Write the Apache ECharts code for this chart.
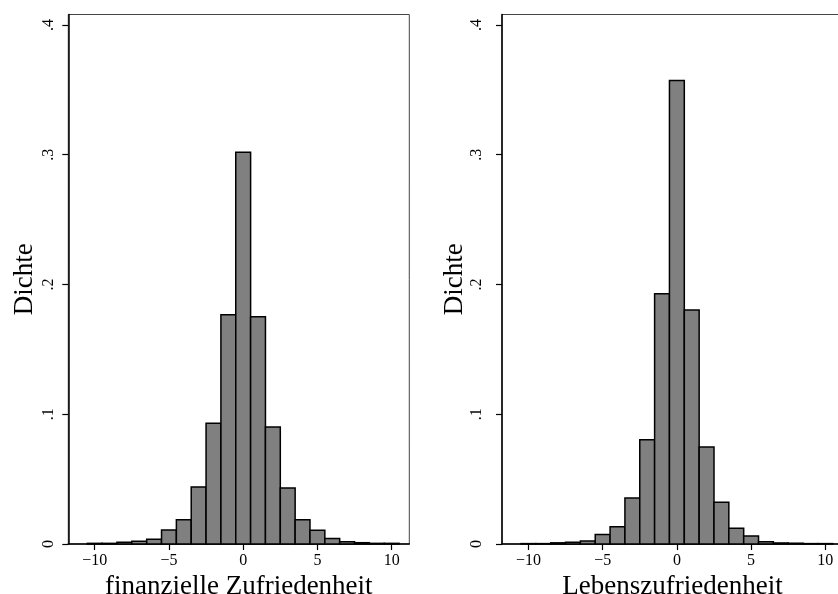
<!DOCTYPE html>
<html>
<head>
<meta charset="utf-8">
<script src="https://cdn.jsdelivr.net/npm/echarts@6/dist/echarts.min.js"></script>
<style>
  html, body { margin: 0; padding: 0; background: #fff; }
  #chart { width: 838px; height: 594px; }
</style>
</head>
<body>
<div id="chart"></div>
<script>
// bin centres (width 1)
var bins = [-10, -9, -8, -7, -6, -5, -4, -3, -2, -1, 0, 1, 2, 3, 4, 5, 6, 7, 8, 9, 10];
// densities
var finanzDichte = [0.0005, 0.0005, 0.0013, 0.0022, 0.0037, 0.0108, 0.0186, 0.0440, 0.0930, 0.1767, 0.3018,
  0.1752, 0.0902, 0.0432, 0.0186, 0.0106, 0.0042, 0.0018, 0.0010, 0.0005, 0.0005];
var lebenDichte = [0.0003, 0.0003, 0.0009, 0.0014, 0.0023, 0.0074, 0.0133, 0.0354, 0.0804, 0.1928, 0.3572,
  0.1803, 0.0747, 0.0321, 0.0121, 0.0062, 0.0018, 0.0008, 0.0006, 0.0003, 0.0003];
var xTicks = [-10, -5, 0, 5, 10];
var yTicks = [0, 0.1, 0.2, 0.3, 0.4];
var xTitles = ['finanzielle Zufriedenheit', 'Lebenszufriedenheit'];

var font = 'Liberation Serif';

function histItem(params, api) {
  var x = api.value(0), y = api.value(1);
  var p0 = api.coord([x - 0.5, 0]);
  var p1 = api.coord([x + 0.5, y]);
  return {
    type: 'rect',
    shape: { x: p0[0], y: p1[1], width: p1[0] - p0[0], height: p0[1] - p1[1] },
    style: { fill: '#808080', stroke: '#000', lineWidth: 1.5 }
  };
}

function xAxisFor(i) {
  return {
    type: 'value', gridIndex: i, min: -11.78, max: 11.19,
    name: xTitles[i], nameLocation: 'middle', nameGap: 26,
    nameTextStyle: { fontFamily: font, fontSize: 27, color: '#000' },
    axisLine: { show: true, onZero: false, lineStyle: { color: '#000', width: 1.5 } },
    axisTick: { show: true, length: 6, customValues: xTicks, lineStyle: { color: '#000', width: 1.2 } },
    axisLabel: {
      customValues: xTicks, margin: 9, fontFamily: font, fontSize: 16, color: '#000',
      formatter: function (v) { return v < 0 ? '\u2212' + Math.abs(v) : String(v); }
    },
    splitLine: { show: false }
  };
}

function yAxisFor(i, margin, gap) {
  return {
    type: 'value', gridIndex: i, min: 0, max: 0.408,
    name: 'Dichte', nameLocation: 'middle', nameGap: gap, nameRotate: 90,
    nameTextStyle: { fontFamily: font, fontSize: 27, color: '#000' },
    axisLine: { show: true, onZero: false, lineStyle: { color: '#000', width: 1.5 } },
    axisTick: { show: true, length: 6, customValues: yTicks, lineStyle: { color: '#000', width: 1.2 } },
    axisLabel: {
      customValues: yTicks, rotate: 90, margin: margin, fontFamily: font, fontSize: 16, color: '#000',
      formatter: function (v) { return v === 0 ? '0' : '.' + Math.round(v * 10); }
    },
    splitLine: { show: false }
  };
}

var chart = echarts.init(document.getElementById('chart'), null, { renderer: 'canvas' });
chart.setOption({
  animation: false,
  backgroundColor: '#fff',
  grid: [
    { left: 68.3, top: 14.5, width: 341, height: 529.5, outerBoundsMode: 'none', containLabel: false,
      show: true, borderColor: '#444', borderWidth: 1 },
    { left: 502, top: 14.5, width: 341, height: 529.5, outerBoundsMode: 'none', containLabel: false,
      show: true, borderColor: '#444', borderWidth: 1 }
  ],
  xAxis: [xAxisFor(0), xAxisFor(1)],
  yAxis: [yAxisFor(0, 12, 30), yAxisFor(1, 17, 29)],
  series: [
    {
      type: 'custom', xAxisIndex: 0, yAxisIndex: 0, renderItem: histItem,
      data: bins.map(function (b, k) { return [b, finanzDichte[k]]; })
    },
    {
      type: 'custom', xAxisIndex: 1, yAxisIndex: 1, renderItem: histItem,
      data: bins.map(function (b, k) { return [b, lebenDichte[k]]; })
    }
  ]
});
</script>
</body>
</html>
